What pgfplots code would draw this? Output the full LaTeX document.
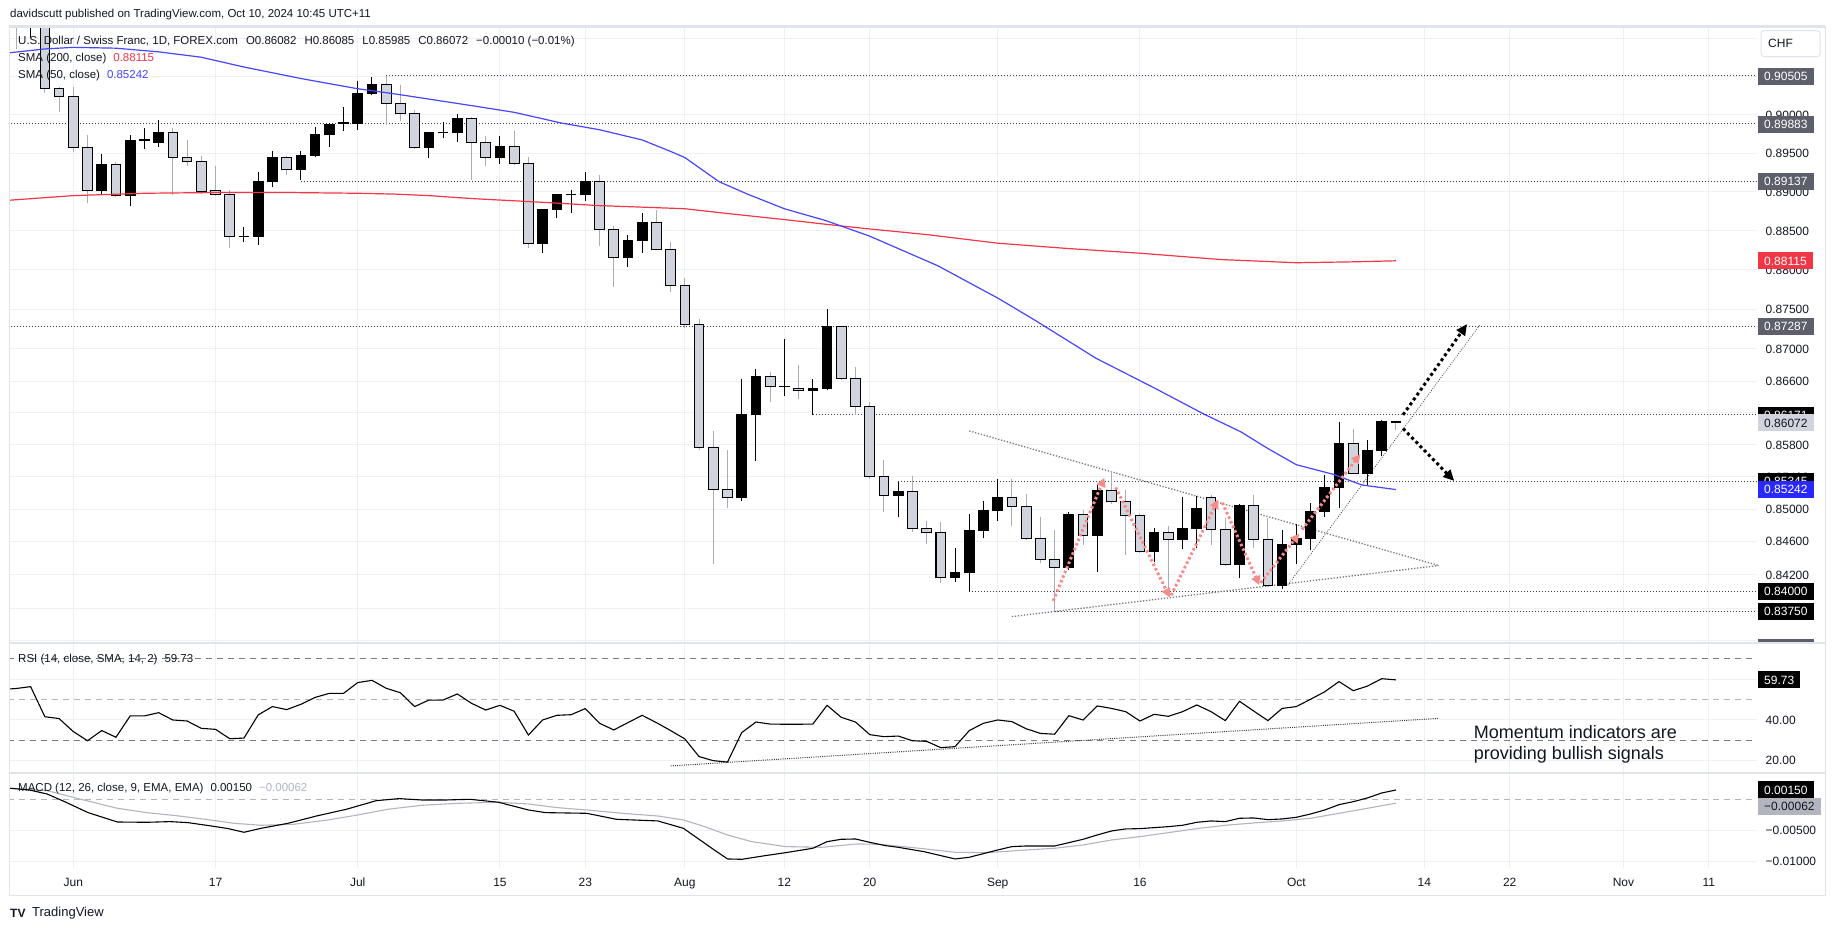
\documentclass[border=0pt]{standalone}
\usepackage{pgfplots}
\pgfplotsset{compat=1.18}
\usepackage{pgfplotstable}
\usepackage{fontspec}
\setmainfont{Liberation Sans}
\usetikzlibrary{arrows.meta}

\definecolor{tvtext}{RGB}{19,23,34}
\definecolor{gridc}{RGB}{238,240,245}
\definecolor{framec}{RGB}{224,227,235}
\definecolor{downfill}{RGB}{209,212,220}
\definecolor{downwick}{RGB}{170,173,182}
\definecolor{smared}{RGB}{242,54,69}
\definecolor{smablue}{RGB}{70,70,255}
\definecolor{lvl}{RGB}{60,60,60}
\definecolor{boxgray}{RGB}{93,96,107}
\definecolor{boxblue}{RGB}{41,41,255}
\definecolor{boxlight}{RGB}{209,212,220}
\definecolor{sigc}{RGB}{178,181,190}
\definecolor{bandc}{RGB}{120,123,134}
\definecolor{bandl}{RGB}{180,182,190}
\definecolor{redarrow}{RGB}{245,140,140}
\definecolor{trig}{RGB}{120,120,125}

\newcommand\axf{\fontsize{12}{14}\selectfont}
\newcommand\lgf{\fontsize{11.5}{13}\selectfont}

% candles: bar index (0 = 3 Jun 2024), open, high, low, close
\pgfplotstableread{
i O H L C
-4 0.9160 0.9170 0.9085 0.9150
-3 0.9140 0.9165 0.9101 0.9150
-2 0.9150 0.9160 0.9028 0.90337
-1 0.90337 0.90362 0.90029 0.90239
0 0.90239 0.90362 0.8951 0.89568
1 0.89568 0.8973 0.8886 0.8902
2 0.8902 0.8949 0.8897 0.8935
3 0.8935 0.8939 0.8893 0.8895
4 0.8895 0.8973 0.8881 0.8966
5 0.8966 0.8983 0.8955 0.8967
6 0.8964 0.8993 0.8958 0.8976
7 0.8976 0.8983 0.8896 0.8944
8 0.8944 0.8967 0.8933 0.8939
9 0.8939 0.8946 0.8897 0.8900
10 0.8901 0.8933 0.8895 0.8897
11 0.8896 0.8902 0.8828 0.8842
12 0.8842 0.8855 0.8835 0.8843
13 0.8843 0.8926 0.8832 0.8913
14 0.8913 0.8953 0.8906 0.8944
15 0.8944 0.8946 0.8922 0.8929
16 0.8929 0.8953 0.8915 0.8947
17 0.8947 0.8984 0.8945 0.8974
18 0.8974 0.8989 0.8958 0.8987
19 0.8988 0.9010 0.8979 0.8989
20 0.8988 0.9044 0.8980 0.9027
21 0.9027 0.9049 0.9025 0.9039
22 0.9039 0.90505 0.8986 0.9015
23 0.9015 0.9039 0.8992 0.9001
24 0.9001 0.9006 0.8955 0.8957
25 0.8957 0.8977 0.8944 0.8976
26 0.8976 0.8990 0.8970 0.8977
27 0.8976 0.9001 0.8965 0.8995
28 0.8995 0.8997 0.8915 0.8964
29 0.8964 0.8972 0.8933 0.8944
30 0.8944 0.8972 0.8936 0.8958
31 0.8958 0.8979 0.8934 0.8936
32 0.8936 0.8945 0.8828 0.8834
33 0.8834 0.8878 0.8822 0.8877
34 0.8877 0.8897 0.8866 0.8896
35 0.8896 0.8902 0.8872 0.8897
36 0.8897 0.8925 0.8888 0.8913
37 0.8913 0.8922 0.8830 0.8851
38 0.8851 0.8856 0.8778 0.8816
39 0.8816 0.8845 0.8803 0.8837
40 0.8837 0.8872 0.8822 0.8860
41 0.8860 0.8876 0.8825 0.8826
42 0.8826 0.8836 0.8772 0.8780
43 0.8780 0.8789 0.8726 0.8730
44 0.8730 0.8737 0.8573 0.8576
45 0.8576 0.8597 0.8433 0.8525
46 0.8525 0.8573 0.8501 0.8515
47 0.8515 0.8662 0.8510 0.8618
48 0.8618 0.8674 0.8560 0.8665
49 0.8665 0.8671 0.8633 0.8652
50 0.8652 0.8712 0.8641 0.8653
51 0.8650 0.8679 0.8637 0.8648
52 0.8648 0.8662 0.86171 0.8650
53 0.8650 0.8750 0.8648 0.8728
54 0.8728 0.87287 0.8661 0.8662
55 0.8662 0.8677 0.8617 0.8628
56 0.8628 0.8633 0.8538 0.8540
57 0.8540 0.8561 0.8496 0.8517
58 0.8517 0.8534 0.8490 0.8522
59 0.8522 0.8541 0.8472 0.8477
60 0.8477 0.8486 0.8457 0.8472
61 0.8472 0.8484 0.8410 0.8416
62 0.8416 0.8452 0.8411 0.8422
63 0.8422 0.8494 0.8400 0.8474
64 0.8474 0.8510 0.8465 0.8499
65 0.8499 0.8538 0.8485 0.8515
66 0.8515 0.8538 0.8479 0.8503
67 0.8503 0.8519 0.8462 0.8464
68 0.8464 0.8490 0.8434 0.8439
69 0.8439 0.8475 0.8375 0.8429
70 0.8429 0.8496 0.8426 0.8494
71 0.8494 0.8499 0.8456 0.8468
72 0.8468 0.8530 0.8423 0.8523
73 0.8523 0.8547 0.8507 0.8509
74 0.8509 0.8524 0.8444 0.8493
75 0.8493 0.8495 0.8446 0.8448
76 0.8448 0.8477 0.8435 0.8472
77 0.8472 0.8479 0.8396 0.8463
78 0.8463 0.8515 0.8451 0.8477
79 0.8477 0.8516 0.8452 0.8501
80 0.8515 0.8518 0.8456 0.8475
81 0.8475 0.8489 0.8431 0.8432
82 0.8432 0.8507 0.8416 0.8505
83 0.8505 0.8517 0.8453 0.8463
84 0.8463 0.8489 0.8405 0.8407
85 0.8407 0.8474 0.8403 0.8456
86 0.8456 0.8482 0.8433 0.8464
87 0.8464 0.8508 0.8450 0.8497
88 0.8497 0.8542 0.8491 0.8527
89 0.8527 0.8608 0.8501 0.8581
90 0.8581 0.8599 0.8543 0.8544
91 0.8544 0.8586 0.8530 0.8573
92 0.8573 0.8611 0.8566 0.8609
93 0.86082 0.86085 0.85985 0.86072
}\candles

\pgfplotstableread{
i v
-5 0.8888
-4.5 0.8889
0 0.8895
5 0.8898
10 0.8899
15 0.8899
20 0.8898
22.6 0.8897
25 0.8895
28.2 0.8891
32.4 0.8887
37 0.8882
40 0.8880
43 0.8878
46 0.8872
50 0.8864
53 0.8858
56 0.8852
60 0.8845
65 0.8834
70 0.8827
75 0.8821
80.7 0.8813
86 0.8809
90 0.8810
93 0.88115
}\smaA

\pgfplotstableread{
i v
-5 0.9080
-4.5 0.9081
-2 0.9086
0 0.9088
3 0.9087
6 0.9082
9 0.9075
12 0.9062
16 0.9047
19.9 0.9034
22.6 0.9027
25 0.9020
28.2 0.9011
31 0.9003
34.3 0.8989
37 0.8980
40 0.8967
42 0.8952
43 0.8944
45.4 0.8913
47.4 0.8897
50 0.8878
52.9 0.8863
56 0.8843
60.8 0.8805
65.1 0.8763
67.7 0.8735
71.9 0.8688
76.1 0.8650
79.5 0.8618
82.1 0.8596
84 0.8575
86 0.8555
88.6 0.8543
90.6 0.8530
93 0.85242
}\smaB

\pgfplotstableread{
i v
-5 55.0
-4 55.5
-3 56.4
-2 41.6
-1 40.7
0 34.3
1 29.8
2 34.8
3 31.5
4 42.0
5 42.0
6 43.6
7 40.0
8 39.5
9 35.9
10 35.4
11 30.8
12 31.1
13 42.5
14 46.6
15 45.1
16 47.7
17 51.1
18 53.1
19 53.1
20 58.4
21 59.5
22 55.6
23 53.4
24 46.6
25 49.8
26 49.8
27 52.8
28 48.2
29 44.9
30 47.2
31 44.3
32 32.6
33 40.0
34 42.3
35 42.6
36 45.6
37 38.4
38 35.1
39 38.7
40 42.3
41 38.7
42 34.8
43 30.7
44 22.0
45 20.0
46 19.3
47 33.8
48 39.0
49 38.0
50 37.9
51 37.9
52 38.0
53 47.2
54 41.3
55 39.0
56 32.8
57 31.8
58 32.1
59 29.8
60 29.5
61 26.4
62 26.9
63 34.8
64 38.4
65 40.0
66 39.2
67 35.7
68 33.4
69 33.0
70 42.1
71 40.0
72 46.9
73 45.7
74 44.1
75 39.5
76 42.8
77 41.8
78 44.1
79 47.4
80 44.1
81 39.7
82 49.2
83 44.4
84 39.7
85 45.7
86 46.6
87 50.2
88 53.9
89 58.9
90 54.4
91 56.7
92 60.3
93 59.73
}\rsi

\pgfplotstableread{
i v
-5 0.0019
-4.4 0.00177
-3.1 0.00151
-1.85 0.00086
-0.61 -0.00038
1.04 -0.00215
3.1 -0.00366
5.16 -0.00371
6.8 -0.0036
8.05 -0.00376
9.7 -0.0043
10.9 -0.00473
12.0 -0.00532
13.2 -0.00468
15.1 -0.00387
17.1 -0.00269
19.2 -0.00161
21.3 -0.00022
22.9 0.00011
24.5 -0.00011
26.2 -0.00011
27.9 0.0
29.9 -0.00048
32.0 -0.00172
33.2 -0.00215
36.1 -0.00226
38.2 -0.00323
41.1 -0.00349
42.9 -0.00468
45.0 -0.00806
46.0 -0.00962
47.0 -0.00968
48.5 -0.00914
50.1 -0.0086
52.0 -0.0079
53.0 -0.00683
54.0 -0.00645
55.0 -0.0064
56.0 -0.00694
57.1 -0.00747
58.0 -0.00774
59.8 -0.00844
62.0 -0.00962
63.0 -0.00935
65.0 -0.00817
66.0 -0.00763
67.0 -0.00753
69.0 -0.00753
70.0 -0.00699
71.0 -0.00645
72.0 -0.00575
73.0 -0.00511
74.0 -0.00478
75.0 -0.00473
77.0 -0.00441
78.0 -0.00419
79.0 -0.00371
80.0 -0.00349
81.0 -0.0036
82.0 -0.00306
83.0 -0.00301
84.0 -0.00328
85.0 -0.00317
86.0 -0.0029
87.0 -0.00237
88.0 -0.00172
89.0 -0.00086
90.0 -0.00038
91.0 0.00022
92.0 0.00102
93.0 0.0015
}\macd

\pgfplotstableread{
i v
-5 0.0019
-4.4 0.00177
-1.85 0.0014
0.2 0.0002
3.1 -0.00145
5.16 -0.00215
7.2 -0.00263
9.3 -0.00323
11.3 -0.00387
13.2 -0.00419
15.5 -0.00403
17.9 -0.00333
20.0 -0.00253
22.1 -0.00161
24.5 -0.00097
27.0 -0.00065
29.9 -0.00048
32.0 -0.00075
34.0 -0.00134
36.1 -0.00172
38.6 -0.00226
41.1 -0.00269
42.9 -0.00333
44.4 -0.00441
46.0 -0.00575
47.7 -0.00683
50.1 -0.00763
52.6 -0.00774
55.1 -0.0072
56.7 -0.00726
59.5 -0.0079
62.0 -0.00855
64.0 -0.0086
65.0 -0.0085
67.0 -0.00817
69.0 -0.0079
71.0 -0.00737
73.0 -0.00656
75.0 -0.00602
77.0 -0.00538
79.0 -0.00473
81.0 -0.00419
83.0 -0.00382
85.0 -0.00349
87.0 -0.00306
89.0 -0.00226
91.0 -0.00145
93.0 -0.00062
}\signal

\pgfplotsset{
  tvaxis/.style={
    scale only axis, width=1748pt,
    xmin=-4.522, xmax=118.39,
    axis line style={draw=none}, major tick length=0pt,
    xtick={0,10,20,30,36,43,50,56,65,75,86,95,101,109,115},
    xticklabels={}, yticklabels={},
    clip mode=individual,
  },
  tvgrid/.style={xmajorgrids, ymajorgrids, major grid style={draw=gridc, line width=1pt}},
  pricepane/.style={tvaxis, at={(9pt,288pt)}, anchor=south west, height=616pt,
    ymin=0.83374, ymax=0.91155,
    ytick={0.834,0.838,0.842,0.846,0.850,0.854,0.858,0.862,0.866,0.870,0.875,0.880,0.885,0.890,0.895,0.900,0.905,0.910}},
}
\tikzset{
  plab/.style={anchor=west, xshift=8.5pt, font=\axf, text=tvtext, inner sep=0pt, text height=8.6pt, text depth=0pt},
  blab/.style={anchor=west, xshift=1pt, font=\axf, inner xsep=6pt, inner ysep=4.2pt, text height=8.6pt, text depth=0pt},
  lvline/.style={lvl, line width=1pt, dash pattern=on 1pt off 2pt},
  datelab/.style={anchor=base, font=\axf, text=tvtext, yshift=-18.3pt},
}

\begin{document}
\begin{tikzpicture}[x=1pt,y=1pt]
\fill[white] (0,0) rectangle (1835,931);

% ---------------- price pane: grid and level lines ----------------
\begin{axis}[y coord trafo/.code={\pgfmathparse{1000*ln(#1)}}, y coord inv trafo/.code={\pgfmathparse{exp(#1/1000)}}, pricepane, tvgrid]
\addplot[lvline, forget plot] coordinates {(22,0.90505) (118.39,0.90505)};
\addplot[lvline, forget plot] coordinates {(-4.6,0.89883) (118.39,0.89883)};
\addplot[lvline, forget plot] coordinates {(16,0.89137) (118.39,0.89137)};
\addplot[lvline, forget plot] coordinates {(-4.6,0.87287) (118.39,0.87287)};
\addplot[lvline, forget plot] coordinates {(52,0.86171) (118.39,0.86171)};
\addplot[lvline, forget plot] coordinates {(58,0.85345) (118.39,0.85345)};
\addplot[lvline, forget plot] coordinates {(63,0.84000) (118.39,0.84000)};
\addplot[lvline, forget plot] coordinates {(69,0.83750) (118.39,0.83750)};
\addplot[trig, line width=1.3pt, dash pattern=on 1.3pt off 1.7pt, forget plot] coordinates {(63,0.8597) (96,0.8431)};
\addplot[trig, line width=1.3pt, dash pattern=on 1.3pt off 1.7pt, forget plot] coordinates {(66,0.8369) (96,0.8431)};
\addplot[lvl, line width=0.8pt, dash pattern=on 0.8pt off 1.5pt, forget plot] coordinates {(85.4,0.8407) (98.9,0.8730)};
\end{axis}

% ---------------- price pane: candles ----------------
\begin{axis}[y coord trafo/.code={\pgfmathparse{1000*ln(#1)}}, y coord inv trafo/.code={\pgfmathparse{exp(#1/1000)}}, pricepane]
\pgfplotsinvokeforeach{0,...,97}{%
  \pgfplotstablegetelem{#1}{i}\of\candles\let\ci\pgfplotsretval
  \pgfplotstablegetelem{#1}{O}\of\candles\let\co\pgfplotsretval
  \pgfplotstablegetelem{#1}{H}\of\candles\let\ch\pgfplotsretval
  \pgfplotstablegetelem{#1}{L}\of\candles\let\cl\pgfplotsretval
  \pgfplotstablegetelem{#1}{C}\of\candles\let\cc\pgfplotsretval
  \pgfmathsetmacro\xa{\ci-0.34}%
  \pgfmathsetmacro\xb{\ci+0.34}%
  \pgfmathtruncatemacro\isup{\cc>=\co}%
  \ifnum\isup=1 \def\bodyc{black}\def\wickc{black}\else\def\bodyc{downfill}\def\wickc{downwick}\fi
  \edef\doit{%
    \noexpand\addplot[\wickc, line width=1pt, forget plot] coordinates {(\ci,\cl) (\ci,\ch)};
    \noexpand\addplot[draw=black, fill=\bodyc, line width=1pt, line cap=rect, forget plot] coordinates {(\xa,\co) (\xb,\co) (\xb,\cc) (\xa,\cc) (\xa,\co)};
  }\doit
}
\addplot[smared, line width=1.2pt, forget plot] table[x=i,y=v] {\smaA};
\addplot[smablue, line width=1.2pt, forget plot] table[x=i,y=v] {\smaB};
\end{axis}

% ---------------- price pane: arrows ----------------
\begin{axis}[y coord trafo/.code={\pgfmathparse{1000*ln(#1)}}, y coord inv trafo/.code={\pgfmathparse{exp(#1/1000)}}, pricepane]
\addplot[redarrow, line width=3pt, dash pattern=on 2.5pt off 2.5pt, -{Triangle[length=9pt,width=9pt]}, forget plot] coordinates {(68.9,0.8388) (72.5,0.8539)};
\addplot[redarrow, line width=3pt, dash pattern=on 2.5pt off 2.5pt, -{Triangle[length=9pt,width=9pt]}, forget plot] coordinates {(73.3,0.8527) (77.1,0.8392)};
\addplot[redarrow, line width=3pt, dash pattern=on 2.5pt off 2.5pt, -{Triangle[length=9pt,width=9pt]}, forget plot] coordinates {(77.2,0.8395) (80.5,0.8512)};
\addplot[redarrow, line width=3pt, dash pattern=on 2.5pt off 2.5pt, -{Triangle[length=9pt,width=9pt]}, forget plot] coordinates {(80.8,0.8508) (83.4,0.8407)};
\addplot[redarrow, line width=3pt, dash pattern=on 2.5pt off 2.5pt, -{Triangle[length=9pt,width=9pt]}, forget plot] coordinates {(83.5,0.8410) (86.2,0.8470)};
\addplot[redarrow, line width=3pt, dash pattern=on 2.5pt off 2.5pt, -{Triangle[length=9pt,width=9pt]}, forget plot] coordinates {(86.4,0.8475) (90.5,0.8568)};
\addplot[black, line width=3pt, dash pattern=on 3pt off 3pt, -{Triangle[length=11pt,width=10pt]}, forget plot] coordinates {(93.5,0.8617) (98.0,0.8731)};
\addplot[black, line width=3pt, dash pattern=on 3pt off 3pt, -{Triangle[length=11pt,width=10pt]}, forget plot] coordinates {(93.5,0.8600) (97.1,0.8535)};
\end{axis}

% ---------------- price pane: scale labels ----------------
\begin{axis}[y coord trafo/.code={\pgfmathparse{1000*ln(#1)}}, y coord inv trafo/.code={\pgfmathparse{exp(#1/1000)}}, pricepane]
\pgfplotsinvokeforeach{0.90000,0.89500,0.89000,0.88500,0.88000,0.87500,0.87000,0.86600,0.86200,0.85800,0.85400,0.85000,0.84600,0.84200,0.83800}{%
  \node[plab] at (axis cs:118.39,#1) {#1};
}
\node[blab, fill=boxgray, text=white] at (axis cs:118.39,0.90505) {0.90505};
\node[blab, fill=boxgray, text=white] at (axis cs:118.39,0.89883) {0.89883};
\node[blab, fill=boxgray, text=white] at (axis cs:118.39,0.89137) {0.89137};
\node[blab, fill=smared, text=white] at (axis cs:118.39,0.88115) {0.88115};
\node[blab, fill=boxgray, text=white] at (axis cs:118.39,0.87287) {0.87287};
\node[blab, fill=black, text=white] at (axis cs:118.39,0.86171) {0.86171};
\node[blab, fill=boxlight, text=tvtext] at (axis cs:118.39,0.86072) {0.86072};
\node[blab, fill=black, text=white] at (axis cs:118.39,0.85345) {0.85345};
\node[blab, fill=boxblue, text=white] at (axis cs:118.39,0.85242) {0.85242};
\node[blab, fill=black, text=white] at (axis cs:118.39,0.84000) {0.84000};
\node[blab, fill=black, text=white] at (axis cs:118.39,0.83750) {0.83750};
\end{axis}

% ---------------- RSI pane ----------------
\begin{axis}[tvaxis, tvgrid, at={(9pt,158pt)}, anchor=south west, height=130pt,
  ymin=13.93, ymax=77.87, ytick={20,40,60}]
\addplot[bandc, line width=1pt, dash pattern=on 6pt off 5pt, forget plot] coordinates {(-4.6,70) (118.39,70)};
\addplot[bandl, line width=1pt, dash pattern=on 6pt off 5pt, forget plot] coordinates {(-4.6,50) (118.39,50)};
\addplot[bandc, line width=1pt, dash pattern=on 6pt off 5pt, forget plot] coordinates {(-4.6,30) (118.39,30)};
\addplot[lvl, line width=1pt, dash pattern=on 1pt off 1.2pt, forget plot] coordinates {(42,17.4) (96,40.8)};
\addplot[black, line width=1.1pt, forget plot] table[x=i,y=v] {\rsi};
\node[plab] at (axis cs:118.39,40) {40.00};
\node[plab] at (axis cs:118.39,20) {20.00};
\node[blab, fill=black, text=white] at (axis cs:118.39,59.73) {59.73};
\end{axis}

% ---------------- MACD pane ----------------
\begin{axis}[tvaxis, tvgrid, at={(9pt,63pt)}, anchor=south west, height=95pt,
  ymin=-0.01108, ymax=0.004242, ytick={-0.01,-0.005}, scaled y ticks=false]
\addplot[bandl, line width=1pt, dash pattern=on 6pt off 5pt, forget plot] coordinates {(-4.6,0) (118.39,0)};
\addplot[sigc, line width=1.1pt, forget plot] table[x=i,y=v] {\signal};
\addplot[black, line width=1.1pt, forget plot] table[x=i,y=v] {\macd};
\node[plab] at (axis cs:118.39,-0.005) {−0.00500};
\node[plab] at (axis cs:118.39,-0.01) {−0.01000};
\node[blab, fill=black, text=white] at (axis cs:118.39,0.0015) {0.00150};
\node[blab, fill=sigc, text=tvtext, yshift=-3.5pt] at (axis cs:118.39,-0.00062) {−0.00062};
\node[datelab] at (axis cs:0,-0.01108) {Jun};
\node[datelab] at (axis cs:10,-0.01108) {17};
\node[datelab] at (axis cs:20,-0.01108) {Jul};
\node[datelab] at (axis cs:30,-0.01108) {15};
\node[datelab] at (axis cs:36,-0.01108) {23};
\node[datelab] at (axis cs:43,-0.01108) {Aug};
\node[datelab] at (axis cs:50,-0.01108) {12};
\node[datelab] at (axis cs:56,-0.01108) {20};
\node[datelab] at (axis cs:65,-0.01108) {Sep};
\node[datelab] at (axis cs:75,-0.01108) {16};
\node[datelab] at (axis cs:86,-0.01108) {Oct};
\node[datelab] at (axis cs:95,-0.01108) {14};
\node[datelab] at (axis cs:101,-0.01108) {22};
\node[datelab] at (axis cs:109,-0.01108) {Nov};
\node[datelab] at (axis cs:115,-0.01108) {11};
\end{axis}

% frame and separators
\draw[framec, line width=1pt] (9,35) rectangle (1825,904.5);
\draw[framec, line width=2.5pt] (9,904.5) -- (1825,904.5);
\draw[framec, line width=1.2pt] (9,288) -- (1825,288);
\draw[framec, line width=1.2pt] (9,158) -- (1825,158);
\fill[boxgray] (1758,288.6) rectangle (1813.5,291.7);

% CHF button
\draw[framec, line width=1pt, fill=white, rounded corners=3pt] (1761,874.3) rectangle (1820,900.3);
\node[anchor=west, font=\axf, text=tvtext, inner sep=0pt] at (1768,887.3) {CHF};

% header and legends
\node[anchor=west, font=\lgf, text=tvtext, inner sep=0pt] at (10,916) {davidscutt published on TradingView.com, Oct 10, 2024 10:45 UTC+11};
\node[anchor=west, font=\lgf, text=tvtext, inner sep=0pt] at (18,889.3) {U.S. Dollar / Swiss Franc, 1D, FOREX.com\hspace{8pt}O0.86082\hspace{8pt}H0.86085\hspace{8pt}L0.85985\hspace{8pt}C0.86072\hspace{8pt}−0.00010 (−0.01\%)};
\node[anchor=west, font=\lgf, text=tvtext, inner sep=0pt] at (18,872.3) {SMA (200, close)\hspace{7pt}{\color{smared}0.88115}};
\node[anchor=west, font=\lgf, text=tvtext, inner sep=0pt] at (18,855.3) {SMA (50, close)\hspace{7pt}{\color{smablue}0.85242}};
\node[anchor=west, font=\lgf, text=tvtext, inner sep=0pt] at (18,271) {RSI (14, close, SMA, 14, 2)\hspace{7pt}59.73};
\node[anchor=west, font=\lgf, text=tvtext, inner sep=0pt] at (18,142) {MACD (12, 26, close, 9, EMA, EMA)\hspace{7pt}0.00150\hspace{7pt}{\color{sigc}−0.00062}};

% annotation
\node[anchor=base west, font=\fontsize{18}{22}\selectfont, text=tvtext, inner sep=0pt] at (1473.6,192.7) {Momentum indicators are};
\node[anchor=base west, font=\fontsize{18}{22}\selectfont, text=tvtext, inner sep=0pt] at (1473.6,171) {providing bullish signals};

% footer
\node[anchor=west, font=\fontsize{12}{14}\selectfont\bfseries, text=tvtext, inner sep=0pt] at (10,18) {TV};
\node[anchor=west, font=\fontsize{13}{15}\selectfont, text=tvtext, inner sep=0pt] at (32,18) {TradingView};

\pgfresetboundingbox
\path[use as bounding box] (0,0) rectangle (1835,931);
\end{tikzpicture}
\end{document}
